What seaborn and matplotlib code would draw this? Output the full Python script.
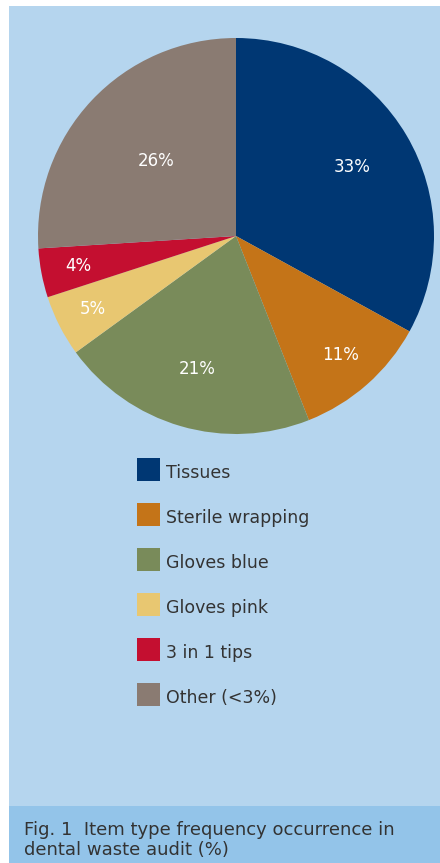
import numpy as np
import matplotlib
matplotlib.use("Agg")
import matplotlib.pyplot as plt
from matplotlib.patches import Rectangle
import seaborn as sns

categories = ["Tissues", "Sterile wrapping", "Gloves blue", "Gloves pink", "3 in 1 tips", "Other (<3%)"]
values = [33, 11, 21, 5, 4, 26]
pct_labels = ["33%", "11%", "21%", "5%", "4%", "26%"]
hex_colors = ["#003773", "#c47418", "#798b5a", "#e8c771", "#c40f30", "#8a7b72"]
label_radius = [0.68, 0.80, 0.70, 0.81, 0.81, 0.55]
caption = "Fig. 1  Item type frequency occurrence in\ndental waste audit (%)"

sns.set_style("white")
plt.rcParams['font.family'] = ['DejaVu Sans']
palette = sns.color_palette(hex_colors)

W, H = 440, 863
fig = plt.figure(figsize=(W / 100, H / 100), dpi=100, facecolor="white")

# background panels
fig.add_artist(Rectangle((9 / W, 0), 1 - 9 / W, (H - 6) / H, transform=fig.transFigure,
                         facecolor="#b5d5ee", edgecolor="none", zorder=0))
fig.add_artist(Rectangle((9 / W, 0), 1 - 9 / W, 57 / H, transform=fig.transFigure,
                         facecolor="#93c4e9", edgecolor="none", zorder=0))

cx, cy, r = 236, 236, 198
ax = fig.add_axes([(cx - r) / W, (H - cy - r) / H, 2 * r / W, 2 * r / H])
ax.set_facecolor("none")
wedges, _ = ax.pie(values, colors=palette, startangle=90, counterclock=False, radius=1,
                   wedgeprops=dict(linewidth=0))
ax.set_xlim(-1, 1)
ax.set_ylim(-1, 1)
ax.set_aspect("equal")
ax.axis("off")

for w, lab, lr in zip(wedges, pct_labels, label_radius):
    th = np.deg2rad((w.theta1 + w.theta2) / 2)
    ax.text(lr * np.cos(th), lr * np.sin(th), lab, ha="center", va="center",
            color="white", fontsize=12)

# legend
for i, (cat, col) in enumerate(zip(categories, palette)):
    top = 458 + 45 * i
    fig.add_artist(Rectangle((137 / W, (H - top - 23) / H), 23 / W, 23 / H,
                             transform=fig.transFigure, facecolor=col, edgecolor="none"))
    fig.text(166 / W, (H - top - 15) / H, cat, ha="left", va="center",
             color="#333333", fontsize=12.5)

fig.text(24 / W, (H - 840) / H, caption, ha="left", va="center", color="#333333",
         fontsize=13, linespacing=1.1)

fig.savefig("out.png", dpi=100, facecolor=fig.get_facecolor())
